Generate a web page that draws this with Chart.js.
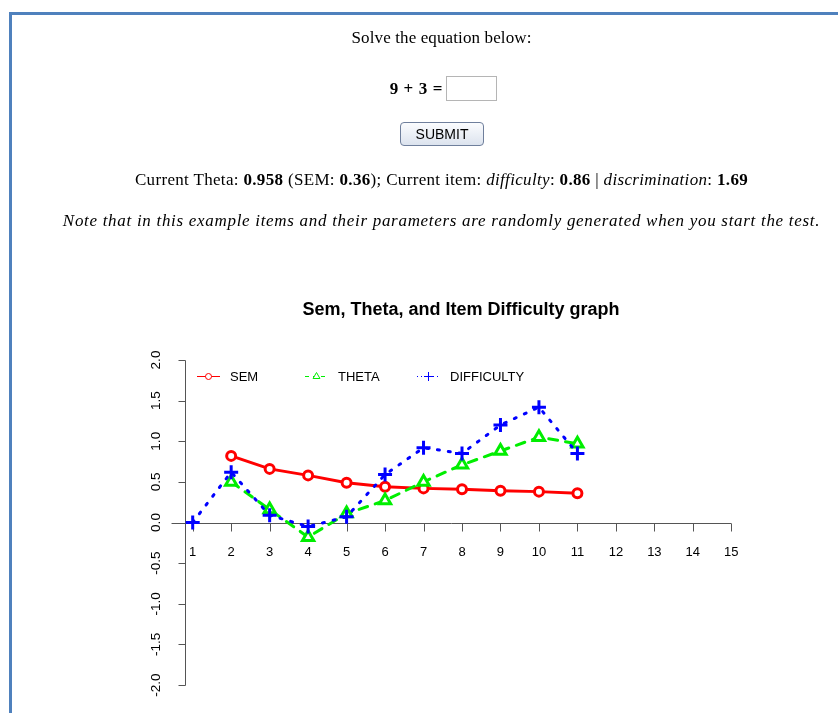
<!DOCTYPE html>
<html>
<head>
<meta charset="utf-8">
<script src="https://cdn.jsdelivr.net/npm/chart.js@4/dist/chart.umd.min.js"></script>
<style>
  html, body { margin: 0; padding: 0; background: #fff; width: 838px; height: 713px; overflow: hidden; }
  #frame { position: absolute; left: 9px; top: 12px; width: 900px; height: 800px;
           border-left: 3px solid #4f81bd; border-top: 3px solid #4f81bd; }
  canvas#c { position: absolute; left: 0; top: 0; }
  .line { position: absolute; left: 0; width: 883px; text-align: center;
          font-family: "Liberation Serif", "Times New Roman", serif; font-size: 17px;
          line-height: 20px; color: #000; white-space: nowrap; }
  #eqText { position: absolute; left: 0; width: 443px; text-align: right; top: 79px;
            font-family: "Liberation Serif", serif; font-size: 17px; font-weight: bold; line-height: 20px; letter-spacing: 0.6px; }
  #answer { position: absolute; left: 446px; top: 76px; width: 51px; height: 25px; box-sizing: border-box;
            border: 1px solid #b5b5b5; margin: 0; padding: 0; background: #fff; }
  #submit { position: absolute; left: 400px; top: 122px; width: 84px; height: 24px; box-sizing: border-box;
            border: 1px solid #6f7f9c; border-radius: 4px; margin: 0; padding: 0;
            background: linear-gradient(#fbfcfe, #dce3ee); font-family: "Liberation Sans", Arial, sans-serif;
            font-size: 14px; color: #000; }
</style>
</head>
<body>
<canvas id="c" width="838" height="713"></canvas>
<div id="frame"></div>
<div class="line" style="top:28px; letter-spacing:0.12px;">Solve the equation below:</div>
<div id="eqText">9 + 3 =</div>
<input id="answer" type="text">
<button id="submit">SUBMIT</button>
<div class="line" style="top:170px; letter-spacing:0.33px;">Current Theta: <b>0.958</b> (SEM: <b>0.36</b>); Current item: <i>difficulty</i>: <b>0.86</b> | <i>discrimination</i>: <b>1.69</b></div>
<div class="line" style="top:211px; letter-spacing:0.7px;"><i>Note that in this example items and their parameters are randomly generated when you start the test.</i></div>
<script>
// ---- data ----
const items = [1, 2, 3, 4, 5, 6, 7, 8, 9, 10, 11];
const semValues = [null, 0.82, 0.66, 0.58, 0.49, 0.44, 0.42, 0.41, 0.39, 0.38, 0.36];
const thetaValues = [null, 0.50, 0.16, -0.18, 0.11, 0.27, 0.50, 0.71, 0.88, 1.05, 0.97];
const difficultyValues = [0.00, 0.62, 0.09, -0.05, 0.07, 0.59, 0.92, 0.85, 1.20, 1.42, 0.85];
const xTicks = [1, 2, 3, 4, 5, 6, 7, 8, 9, 10, 11, 12, 13, 14, 15];
const yTicks = [-2, -1.5, -1, -0.5, 0, 0.5, 1, 1.5, 2];
const yTickLabels = ["-2.0", "-1.5", "-1.0", "-0.5", "0.0", "0.5", "1.0", "1.5", "2.0"];
const seriesNames = ["SEM", "THETA", "DIFFICULTY"];
const chartTitle = "Sem, Theta, and Item Difficulty graph";

function toPoints(vals) {
  const pts = [];
  items.forEach((it, i) => { if (vals[i] !== null) pts.push({ x: it, y: vals[i] }); });
  return pts;
}

const AXIS_COLOR = '#555';
const SANS = '"Liberation Sans", Arial, Helvetica, sans-serif';

const rAxesPlugin = {
  id: 'rAxes',
  beforeDatasetsDraw(chart) {
    const ctx = chart.ctx;
    const xs = chart.scales.x, ys = chart.scales.y;
    const left = Math.round(chart.chartArea.left) + 0.5;
    ctx.save();
    ctx.strokeStyle = AXIS_COLOR;
    ctx.lineWidth = 1;
    ctx.fillStyle = '#000';
    // y axis
    ctx.beginPath();
    ctx.moveTo(left, Math.round(ys.getPixelForValue(yTicks[0])) + 0.5);
    ctx.lineTo(left, Math.round(ys.getPixelForValue(yTicks[yTicks.length - 1])) + 0.5);
    yTicks.forEach(v => {
      const py = Math.round(ys.getPixelForValue(v)) + 0.5;
      ctx.moveTo(left, py);
      ctx.lineTo(left - 7, py);
    });
    ctx.stroke();
    ctx.font = '13.5px ' + SANS;
    ctx.textAlign = 'center';
    ctx.textBaseline = 'middle';
    yTicks.forEach((v, i) => {
      const py = ys.getPixelForValue(v);
      ctx.save();
      ctx.translate(left - 29, py);
      ctx.rotate(-Math.PI / 2);
      ctx.fillText(yTickLabels[i], 0, 0);
      ctx.restore();
    });
    // x axis at y = 0
    const y0 = Math.round(ys.getPixelForValue(0)) + 0.5;
    ctx.beginPath();
    ctx.moveTo(xs.getPixelForValue(0.45), y0);
    ctx.lineTo(xs.getPixelForValue(xTicks[xTicks.length - 1]), y0);
    xTicks.forEach(v => {
      const px = Math.round(xs.getPixelForValue(v)) + 0.5;
      ctx.moveTo(px, y0);
      ctx.lineTo(px, y0 + 8);
    });
    ctx.stroke();
    ctx.font = '13px ' + SANS;
    xTicks.forEach(v => {
      ctx.fillText(String(v), xs.getPixelForValue(v), y0 + 29);
    });
    ctx.restore();
  },
  afterDraw(chart) {
    const ctx = chart.ctx;
    const ca = chart.chartArea;
    ctx.save();
    // title
    ctx.fillStyle = '#000';
    ctx.font = 'bold 18px ' + SANS;
    ctx.textAlign = 'center';
    ctx.textBaseline = 'middle';
    ctx.fillText(chartTitle, (ca.left + ca.right) / 2 - 1, ca.top - 50);
    // legend (inside plot, top-left)
    const ly = ca.top + 16;
    const offsets = [12, 120, 232];
    chart.data.datasets.forEach((ds, i) => {
      const x0 = ca.left + offsets[i];
      ctx.save();
      ctx.strokeStyle = ds.borderColor;
      ctx.fillStyle = '#ffffff';
      ctx.lineWidth = 1;
      ctx.setLineDash(ds.legendDash);
      ctx.beginPath();
      ctx.moveTo(x0, ly + 0.5);
      ctx.lineTo(x0 + 23, ly + 0.5);
      ctx.stroke();
      ctx.setLineDash([]);
      Chart.helpers.drawPoint(ctx, { pointStyle: ds.pointStyle, radius: ds.legendRadius, rotation: 0, borderWidth: 1 },
        x0 + 11.5, ly + 0.5);
      ctx.restore();
      ctx.fillStyle = '#000';
      ctx.font = '13px ' + SANS;
      ctx.textAlign = 'left';
      ctx.textBaseline = 'middle';
      ctx.fillText(seriesNames[i], x0 + 33, ly + 1);
    });
    ctx.restore();
  }
};

new Chart(document.getElementById('c'), {
  type: 'line',
  data: {
    datasets: [
      {
        label: seriesNames[0], data: toPoints(semValues),
        borderColor: '#ff0000', backgroundColor: '#ffffff', borderWidth: 3,
        pointStyle: 'circle', pointRadius: 4.5, pointBorderWidth: 3, pointBackgroundColor: '#ffffff',
        pointBorderColor: '#ff0000', order: 3, clip: false, legendDash: [], legendRadius: 3
      },
      {
        label: seriesNames[1], data: toPoints(thetaValues),
        borderColor: '#00ee00', backgroundColor: '#ffffff', borderWidth: 3, borderDash: [9, 8], borderCapStyle: 'round',
        pointStyle: 'triangle', pointRadius: 6.5, pointBorderWidth: 3, pointBackgroundColor: '#ffffff',
        pointBorderColor: '#00ee00', order: 2, clip: false, legendDash: [4, 4], legendRadius: 4
      },
      {
        label: seriesNames[2], data: toPoints(difficultyValues),
        borderColor: '#0000ff', backgroundColor: '#0000ff', borderWidth: 3, borderDash: [2, 9], borderCapStyle: 'round',
        pointStyle: 'cross', pointRadius: 7, pointBorderWidth: 3,
        pointBorderColor: '#0000ff', order: 1, clip: false, legendDash: [1, 3], legendRadius: 4.5
      }
    ]
  },
  options: {
    responsive: false,
    animation: false,
    devicePixelRatio: 1,
    events: [],
    layout: { padding: { left: 185, right: 99, top: 360, bottom: 28 } },
    scales: {
      x: { type: 'linear', min: 0.8, max: 15.2, display: false },
      y: { type: 'linear', min: -2, max: 2, display: false }
    },
    plugins: { legend: { display: false }, title: { display: false }, tooltip: { enabled: false } }
  },
  plugins: [rAxesPlugin]
});
</script>
</body>
</html>
